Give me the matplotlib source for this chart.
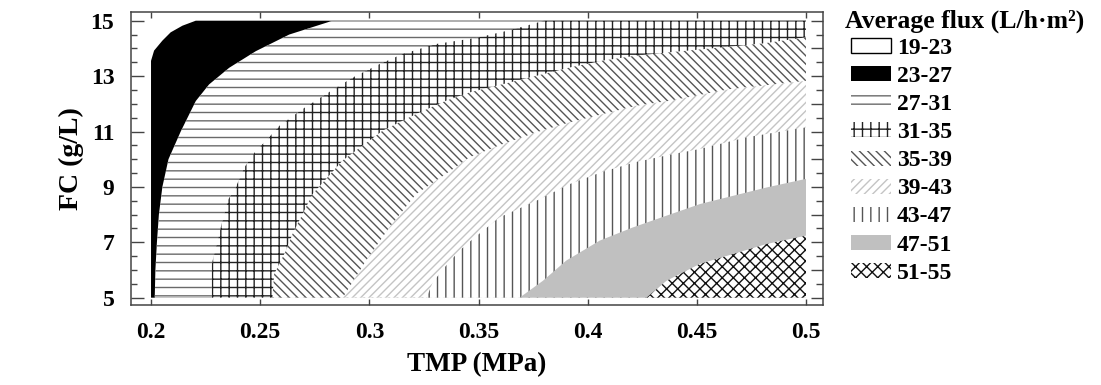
import numpy as np
import matplotlib.pyplot as plt
from matplotlib.patches import Patch
from matplotlib.ticker import MultipleLocator

plt.rcParams['font.family'] = ['Liberation Serif', 'DejaVu Serif']
plt.rcParams['font.weight'] = 'bold'
plt.rcParams['hatch.linewidth'] = 1.0

# domain of the response surface
tmp_lim = [0.2, 0.5]
fc_lim = [5, 15]

# band labels (average flux, L/h.m2)
bands = ['19-23', '23-27', '27-31', '31-35', '35-39', '39-43', '43-47', '47-51', '51-55']

# lower contour of each band above the first (TMP, FC)
c23_x = [0.2000, 0.2014, 0.2052, 0.2090, 0.2144, 0.2205]
c23_y = [13.55, 13.92, 14.28, 14.58, 14.82, 15.0]

c27_x = [0.2017, 0.2020, 0.2027, 0.2036, 0.2052, 0.2080, 0.2136, 0.2205, 0.2266, 0.2358, 0.2480, 0.2633, 0.2832]
c27_y = [5.0, 6.0, 7.0, 8.0, 9.0, 10.0, 11.0, 12.1, 12.7, 13.3, 13.9, 14.5, 15.0]

c31_x = [0.2278, 0.2278, 0.2312, 0.2350, 0.2389, 0.2427, 0.2480, 0.2527, 0.2587, 0.2694,
         0.2801, 0.2924, 0.3046, 0.3153, 0.3306, 0.3489, 0.3612, 0.3720, 0.3800]
c31_y = [5.0, 6.2, 7.3, 8.5, 9.0, 9.7, 10.3, 10.67, 11.2, 11.81,
         12.35, 12.95, 13.43, 13.8, 14.16, 14.38, 14.6, 14.82, 15.0]

c35_x = [0.2556, 0.2564, 0.2618, 0.2648, 0.2740, 0.2877, 0.3061, 0.3214, 0.3351, 0.3459,
         0.3612, 0.3765, 0.3917, 0.4070, 0.4223, 0.4376, 0.4499, 0.4804, 0.5000]
c35_y = [5.0, 5.85, 6.7, 7.3, 8.74, 9.95, 11.03, 11.63, 12.11, 12.41,
         12.71, 13.01, 13.31, 13.56, 13.74, 13.86, 13.95, 14.18, 14.40]

c39_x = [0.2878, 0.2985, 0.3092, 0.3214, 0.3351, 0.3459, 0.3612, 0.3765, 0.3917, 0.4070,
         0.4223, 0.4376, 0.4651, 0.5000]
c39_y = [5.0, 6.34, 7.54, 8.74, 9.47, 10.07, 10.55, 10.97, 11.33, 11.63,
         11.93, 12.11, 12.53, 12.83]

c43_x = [0.3262, 0.3290, 0.3344, 0.3413, 0.3474, 0.3596, 0.3765, 0.3917, 0.4070, 0.4223,
         0.4376, 0.4514, 0.4728, 0.5000]
c43_y = [5.0, 5.55, 6.09, 6.7, 7.12, 7.9, 8.5, 9.1, 9.55, 9.9,
         10.16, 10.37, 10.79, 11.15]

c47_x = [0.3688, 0.3795, 0.3902, 0.4055, 0.4208, 0.4361, 0.4514, 0.4667, 0.4820, 0.5000]
c47_y = [5.0, 5.61, 6.34, 7.06, 7.54, 7.96, 8.38, 8.68, 8.98, 9.29]

c51_x = [0.4269, 0.4361, 0.4514, 0.4667, 0.4820, 0.5000]
c51_y = [5.0, 5.61, 6.22, 6.58, 6.94, 7.24]

contours = [(c23_x, c23_y), (c27_x, c27_y), (c31_x, c31_y), (c35_x, c35_y),
            (c39_x, c39_y), (c43_x, c43_y), (c47_x, c47_y), (c51_x, c51_y)]

# look of each band: facecolor, hatch colour, hatch
styles = [
    ('white', 'black', None),
    ('black', 'black', None),
    ('white', '#6a6a6a', '--'),
    ('white', '#222222', '++'),
    ('white', '#555555', '\\\\\\\\'),
    ('white', '#c4c4c4', '////'),
    ('white', '#555555', '||'),
    ('#c0c0c0', '#c0c0c0', None),
    ('white', '#111111', 'xxx'),
]


def region_above(cx, cy):
    # polygon of the area to the lower right of a contour line
    xs = list(cx)
    ys = list(cy)
    if ys[-1] >= fc_lim[1] and xs[-1] < tmp_lim[1]:
        xs.append(tmp_lim[1]); ys.append(fc_lim[1])
    xs.append(tmp_lim[1]); ys.append(fc_lim[0])
    if ys[0] > fc_lim[0]:
        xs.append(tmp_lim[0]); ys.append(fc_lim[0])
    return xs, ys


fig = plt.figure(figsize=(11.01, 3.85), dpi=100)
ax = fig.add_axes([131 / 1101, 1 - 305 / 385, 692 / 1101, 293 / 385])

# lowest band covers the whole domain
ax.fill([tmp_lim[0], tmp_lim[1], tmp_lim[1], tmp_lim[0]],
        [fc_lim[0], fc_lim[0], fc_lim[1], fc_lim[1]], facecolor='white', linewidth=0)
for (cx, cy), (fcol, hcol, hatch) in zip(contours, styles[1:]):
    px, py = region_above(cx, cy)
    ax.fill(px, py, facecolor=fcol, edgecolor=hcol, hatch=hatch, linewidth=0)

ax.set_xlim(0.2 - 20 / 2181, 0.5 + 17 / 2181)
ax.set_ylim(5 - 7.3 / 27.7, 15 + 8.7 / 27.7)

frame_col = '#444444'
for s in ax.spines.values():
    s.set_color(frame_col)
    s.set_linewidth(1.1)

ax.set_xticks([0.2, 0.25, 0.3, 0.35, 0.4, 0.45, 0.5])
ax.set_xticklabels(['0.2', '0.25', '0.3', '0.35', '0.4', '0.45', '0.5'])
ax.set_yticks([5, 7, 9, 11, 13, 15])
ax.yaxis.set_minor_locator(MultipleLocator(0.5))
ax.tick_params(axis='x', which='major', direction='in', top=True, length=4,
               width=1, color=frame_col, labelsize=17, pad=12)
ax.tick_params(axis='y', which='major', direction='in', length=9,
               width=1, color=frame_col, labelsize=17, pad=12)
ax.tick_params(axis='y', which='minor', direction='in', length=4.5,
               width=1, color=frame_col)

axr = ax.twinx()
axr.set_ylim(ax.get_ylim())
axr.yaxis.set_major_locator(MultipleLocator(1))
axr.yaxis.set_minor_locator(MultipleLocator(0.5))
axr.tick_params(axis='y', which='major', direction='in', length=9, width=1,
                color=frame_col, labelright=False)
axr.tick_params(axis='y', which='minor', direction='in', length=5, width=1,
                color=frame_col)
for s in axr.spines.values():
    s.set_visible(False)

ax.set_xlabel('TMP (MPa)', fontsize=19.5, fontweight='bold', labelpad=7)
ax.set_ylabel('FC (g/L)', fontsize=20, fontweight='bold', labelpad=5)

handles = []
for fcol, hcol, hatch in styles:
    if hatch is None and fcol == 'white':
        handles.append(Patch(facecolor='white', edgecolor='black', linewidth=1))
    else:
        handles.append(Patch(facecolor=fcol, edgecolor=hcol, hatch=hatch, linewidth=0))

fig.text(845 / 1101, 1 - 21 / 385, 'Average flux (L/h·m²)', fontsize=18.5,
         fontweight='bold', ha='left', va='center')
leg = fig.legend(handles, bands, loc='upper left', bbox_to_anchor=(851 / 1101, 1 - 38 / 385),
                 frameon=False, prop={'size': 17, 'weight': 'bold'},
                 handlelength=1.7, handleheight=0.6, handletextpad=0.25,
                 labelspacing=0.3, borderpad=0, borderaxespad=0)

fig.savefig('out.png', dpi=100)
